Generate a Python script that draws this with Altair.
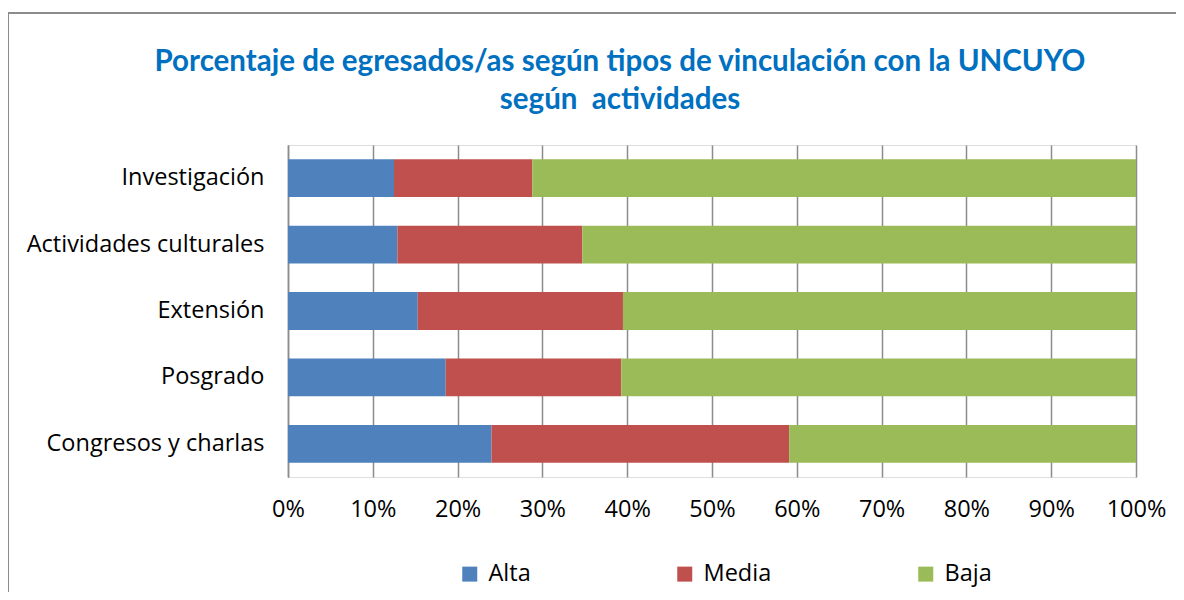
import altair as alt
import pandas as pd

categories = ["Investigación", "Actividades culturales", "Extensión", "Posgrado", "Congresos y charlas"]
alta = [12.5, 12.9, 15.3, 18.6, 24.0]
media = [16.3, 21.8, 24.2, 20.7, 35.1]
baja = [71.2, 65.3, 60.5, 60.7, 40.9]
series = ["Alta", "Media", "Baja"]
colors = ["#4F81BD", "#C0504D", "#9BBB59"]

rows = []
for i, c in enumerate(categories):
    for j, (s, v) in enumerate(zip(series, [alta[i], media[i], baja[i]])):
        rows.append({"cat": c, "serie": s, "valor": v, "orden": j})
df = pd.DataFrame(rows)

FONT = "Open Sans"
TFONT = "Lato"
FS = 23.5

bars = alt.Chart(df).mark_bar().encode(
    y=alt.Y("cat:N", sort=categories, title=None,
            scale=alt.Scale(paddingInner=0.43, paddingOuter=0.215),
            axis=alt.Axis(labelFontSize=FS, labelFont=FONT, labelColor="#000000",
                          labelPadding=24, labelLimit=400, ticks=False,
                          domainColor="#8c8c8c", domainWidth=1.5, grid=False)),
    x=alt.X("valor:Q", stack="normalize", title=None,
            scale=alt.Scale(domain=[0, 1]),
            axis=alt.Axis(format=".0%", values=[i / 10 for i in range(11)],
                          labelFontSize=FS, labelFont=FONT, labelColor="#000000",
                          labelPadding=20, labelFlush=False, ticks=False, domain=False,
                          grid=True, gridColor="#8c8c8c", gridWidth=1.5)),
    color=alt.Color("serie:N", scale=alt.Scale(domain=series, range=colors),
                    legend=alt.Legend(orient="none", legendX=170, legendY=417,
                                      direction="horizontal", title=None,
                                      symbolType="square", symbolSize=225,
                                      symbolStrokeWidth=0, symbolOpacity=1,
                                      labelFontSize=FS, labelFont=FONT,
                                      labelColor="#000000", labelOffset=7,
                                      columnPadding=142, padding=0)),
    order=alt.Order("orden:Q"),
)

frame_top = alt.Chart(df).mark_rule(color="#8c8c8c", strokeWidth=1.5).encode(
    x=alt.value(-280), x2=alt.value(900), y=alt.value(-132))
frame_left = alt.Chart(df).mark_rule(color="#8c8c8c", strokeWidth=1.5).encode(
    x=alt.value(-280), y=alt.value(-132), y2=alt.value(460))

chart = alt.layer(frame_top, frame_left, bars).properties(
    width=848, height=332,
    padding={"left": 280, "top": 137, "right": 40, "bottom": 115},
    autosize=alt.AutoSizeParams(type="none"),
    title=alt.TitleParams(
        text=["Porcentaje de egresados/as según tipos de vinculación con la UNCUYO",
              "según \u00a0actividades"],
        font=TFONT, fontSize=29.5, fontWeight="bold", color="#0070C0",
        anchor="middle", dx=-92, offset=0, dy=103, lineHeight=38),
).configure_view(stroke=None).configure(background="white")

chart.save("out.html", embed_options={"renderer": "svg", "actions": False})
